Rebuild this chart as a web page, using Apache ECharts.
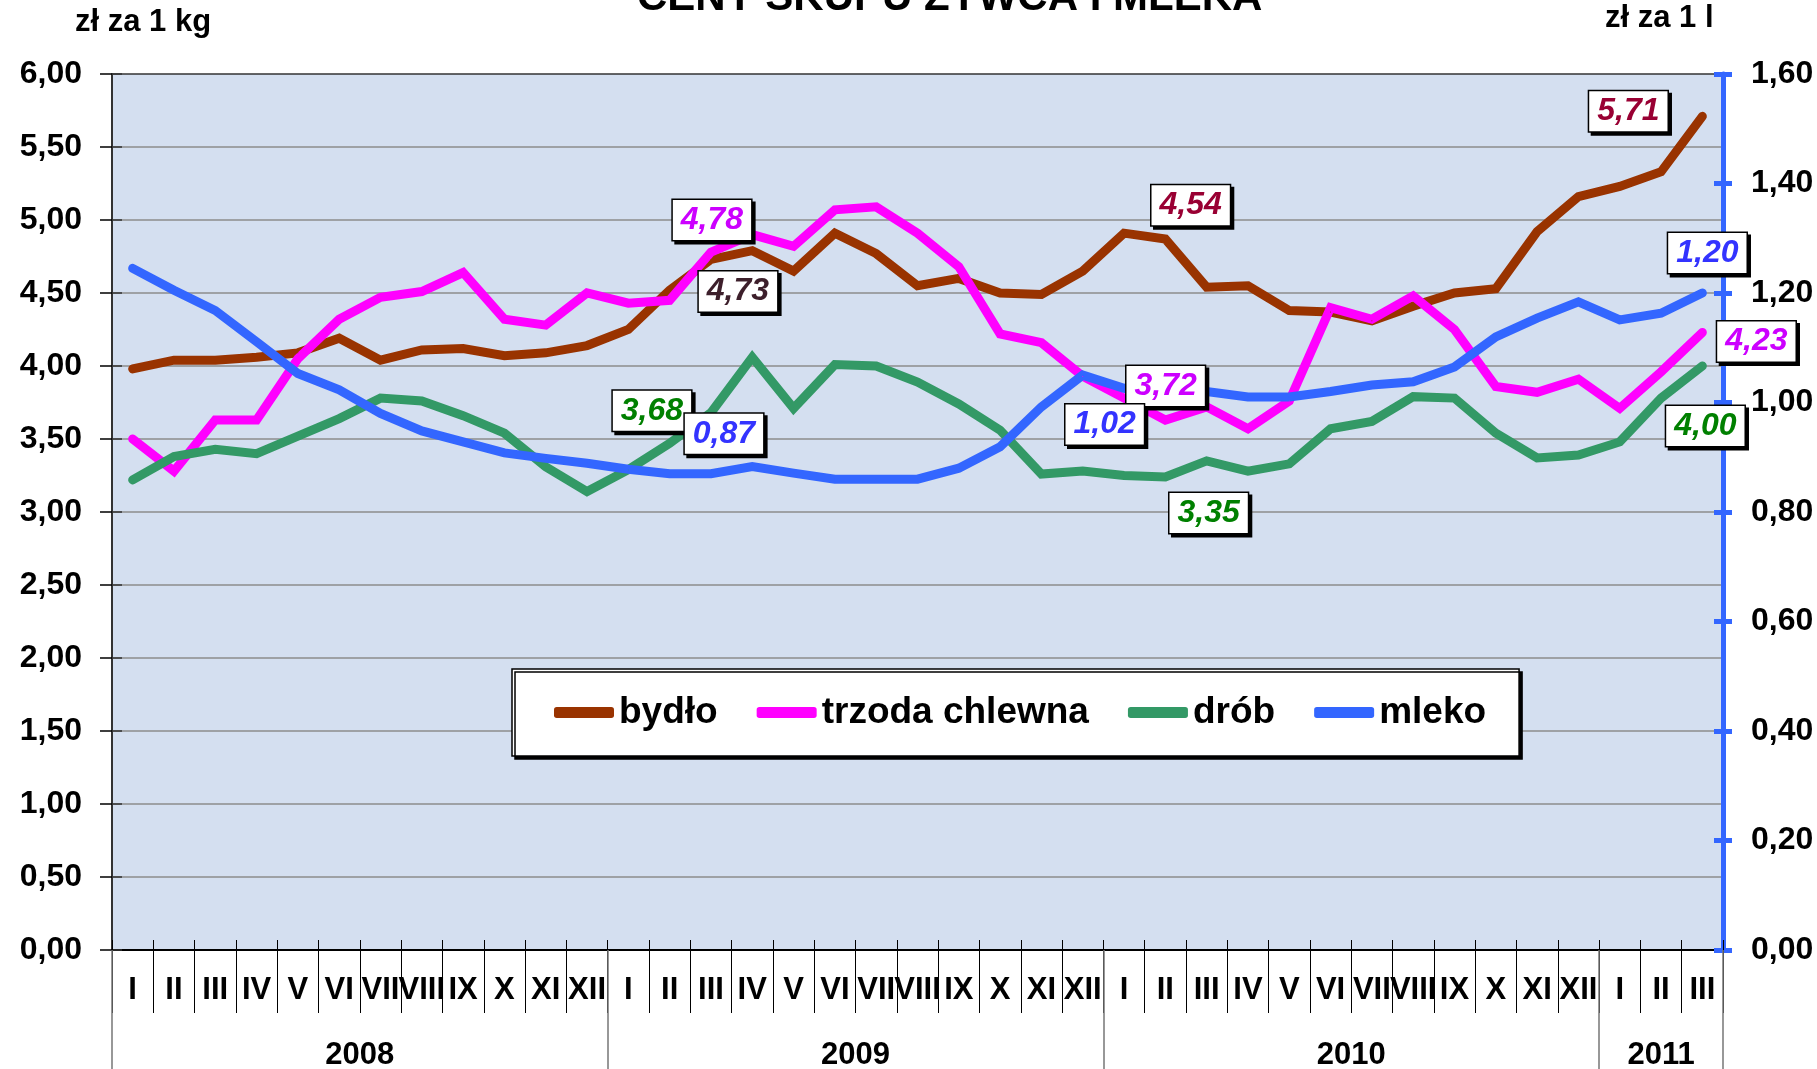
<!DOCTYPE html>
<html><head><meta charset="utf-8">
<script src="https://cdn.jsdelivr.net/npm/echarts@6/dist/echarts.min.js"></script>
<style>html,body{margin:0;padding:0;background:#fff}#c{width:1817px;height:1069px}</style>
</head><body><div id="c"></div>
<script>
// ---------- DATA ----------
const monthLabels = ['I','II','III','IV','V','VI','VII','VIII','IX','X','XI','XII',
                     'I','II','III','IV','V','VI','VII','VIII','IX','X','XI','XII',
                     'I','II','III','IV','V','VI','VII','VIII','IX','X','XI','XII',
                     'I','II','III'];
const years = ['2008','2009','2010','2011'];
const monthsPerYear = [12,12,12,3];
const leftTicks = [0,0.5,1,1.5,2,2.5,3,3.5,4,4.5,5,5.5,6];
const rightTicks = [0,0.2,0.4,0.6,0.8,1.0,1.2,1.4,1.6];

const bydlo  = [3.98,4.04,4.04,4.06,4.09,4.19,4.04,4.11,4.12,4.07,4.09,4.14,
                4.25,4.52,4.73,4.79,4.65,4.91,4.77,4.55,4.60,4.50,4.49,4.65,
                4.91,4.87,4.54,4.55,4.38,4.37,4.31,4.41,4.50,4.53,4.92,5.16,
                5.23,5.33,5.71];
const trzoda = [3.50,3.28,3.63,3.63,4.05,4.32,4.47,4.51,4.64,4.32,4.28,4.50,
                4.43,4.45,4.78,4.90,4.82,5.07,5.09,4.91,4.68,4.22,4.16,3.93,
                3.78,3.63,3.72,3.57,3.76,4.40,4.32,4.48,4.25,3.86,3.82,3.91,
                3.71,3.96,4.23];
const drob   = [3.22,3.38,3.43,3.40,3.52,3.64,3.78,3.76,3.66,3.54,3.31,3.14,
                3.29,3.47,3.68,4.06,3.71,4.01,4.00,3.89,3.74,3.56,3.26,3.28,
                3.25,3.24,3.35,3.28,3.33,3.57,3.62,3.79,3.78,3.54,3.37,3.39,
                3.48,3.78,4.00];
const mleko  = [1.245,1.205,1.168,1.111,1.053,1.023,0.980,0.948,0.928,0.908,0.898,0.889,
                0.878,0.870,0.870,0.883,0.871,0.860,0.860,0.860,0.880,0.919,0.992,1.050,
                1.026,1.015,1.020,1.010,1.010,1.020,1.032,1.038,1.065,1.120,1.154,1.184,
                1.151,1.163,1.200];
const labelledPoints = [14,26,38];

// ---------- STYLE ----------
const FONT = 'Arial, "Liberation Sans", sans-serif';
const fmt2 = v => v.toFixed(2).replace('.', ',');
const yearBounds = monthsPerYear.reduce((a,n)=>{a.push(a[a.length-1]+n);return a;},[0]);
const yearMids = years.map((y,i)=>(yearBounds[i]+yearBounds[i+1])/2);

const boxStyle = {
  show:true, position:'inside', fontFamily:FONT, fontSize:32, fontWeight:'bold', fontStyle:'italic',
  backgroundColor:'#ffffff', borderColor:'#000000', borderWidth:1.5, padding:[5,8,3,8],
  shadowColor:'#000000', shadowOffsetX:3, shadowOffsetY:3, shadowBlur:0,
  formatter: p => fmt2(p.value)
};
const labelCfg = {
  'bydło':          {color:'#990033', offsets:{14:[27,32],26:[-16,-82],38:[-74,-5]}, colors:{14:'#3d1f2b'}},
  'trzoda chlewna': {color:'#cc00ff', offsets:{14:[1,-32],26:[-41,-21],38:[54,9]}},
  'drób':           {color:'#008000', offsets:{14:[-59,-2],26:[2,52],38:[3,60]}},
  'mleko':          {color:'#3333ff', offsets:{14:[13,-40],26:[-102,33],38:[5,-40]}}
};
function buildData(name, values){
  const c = labelCfg[name];
  return values.map((v,i)=>{
    if (labelledPoints.indexOf(i) < 0) return v;
    return {value:v, label:Object.assign({}, boxStyle, {offset:c.offsets[i], color:(c.colors&&c.colors[i])||c.color})};
  });
}
function lineSeries(name, values, color, yIdx){
  return {
    name, type:'line', data:buildData(name, values), yAxisIndex:yIdx, xAxisIndex:0,
    color, symbol:'circle', symbolSize:1, showSymbol:true, showAllSymbol:true,
    itemStyle:{color}, lineStyle:{color, width:9, cap:'round', join:'miter'},
    emphasis:{disabled:true}, animation:false, z:2
  };
}

const axisFont = {fontFamily:FONT, fontSize:31, fontWeight:'bold', color:'#000'};
const gridColors = leftTicks.map((t,i)=> i===leftTicks.length-1 ? '#333333' : '#8c8c8c');

const chart = echarts.init(document.getElementById('c'), null, {renderer:'canvas'});
chart.setOption({
  backgroundColor:'#ffffff',
  animation:false,
  title:[
    {text:'CENY SKUPU ŻYWCA I MLEKA', left:637, top:-23, padding:0,
     textStyle:{fontFamily:FONT, fontSize:42, fontWeight:'bold', color:'#000'}},
    {text:'zł za 1 kg', left:75, top:7, padding:0,
     textStyle:{fontFamily:FONT, fontSize:31, fontWeight:'bold', color:'#000'}},
    {text:'zł za 1 l', left:1605, top:3, padding:0,
     textStyle:{fontFamily:FONT, fontSize:31, fontWeight:'bold', color:'#000'}}
  ],
  legend:{
    left:512, top:669, orient:'horizontal', itemGap:39, itemWidth:60, itemHeight:11,
    icon:'roundRect', padding:[25,33,25,42],
    backgroundColor:'#ffffff', borderColor:'#000000', borderWidth:1.5,
    shadowColor:'#000000', shadowOffsetX:3, shadowOffsetY:3, shadowBlur:0,
    textStyle:{fontFamily:FONT, fontSize:37, fontWeight:'bold', color:'#000'},
    selectedMode:false,
    data:['bydło','trzoda chlewna','drób','mleko']
  },
  grid:{left:112, right:94, top:74, bottom:119, show:true, backgroundColor:'#d4dff0', borderWidth:0,
        containLabel:false, outerBoundsMode:'none'},
  xAxis:[
    {type:'category', data:monthLabels, position:'bottom', boundaryGap:true,
     axisLine:{show:true, onZero:false, lineStyle:{color:'#000', width:2}},
     axisTick:{show:true, interval:0, length:63, lineStyle:{color:'#000', width:1}},
     axisLabel:{interval:0, margin:25, ...axisFont},
     splitLine:{show:false}},
    {type:'value', min:0, max:monthLabels.length, position:'bottom',
     axisLine:{show:false}, splitLine:{show:false},
     axisTick:{show:true, customValues:yearBounds, length:119, lineStyle:{color:'#777', width:1.5}},
     axisLabel:{customValues:yearMids, formatter:v=>years[yearMids.indexOf(v)], margin:90, ...axisFont}},
    {type:'category', data:monthLabels, position:'bottom', boundaryGap:true,
     axisLine:{show:false},
     axisTick:{show:true, inside:true, interval:0, length:10, lineStyle:{color:'#000', width:1}},
     axisLabel:{show:false}, splitLine:{show:false}}
  ],
  yAxis:[
    {type:'value', min:0, max:6, interval:0.5, position:'left',
     axisLine:{show:true, lineStyle:{color:'#333', width:2}},
     axisTick:{show:true, length:12, lineStyle:{color:'#000', width:1.5}},
     axisLabel:{formatter:v=>fmt2(v), margin:30, ...axisFont, fontSize:32},
     splitLine:{show:true, lineStyle:{color:gridColors, width:1.5}}},
    {type:'value', min:0, max:1.6, interval:0.2, position:'right',
     axisLine:{show:true, lineStyle:{color:'#3366ff', width:5}},
     axisTick:{show:true, length:9, lineStyle:{color:'#3366ff', width:5}},
     axisLabel:{formatter:v=>fmt2(v), margin:28, ...axisFont, fontSize:32},
     splitLine:{show:false}},
    {type:'value', min:0, max:1.6, interval:0.2, position:'right',
     axisLine:{show:false}, axisLabel:{show:false}, splitLine:{show:false},
     axisTick:{show:true, inside:true, length:9, lineStyle:{color:'#3366ff', width:5}}},
    {type:'value', min:0, max:6, interval:0.5, position:'left',
     axisLine:{show:false}, axisLabel:{show:false}, splitLine:{show:false},
     axisTick:{show:true, inside:true, length:10, lineStyle:{color:'#333', width:1.5}}}
  ],
  series:[
    lineSeries('bydło', bydlo, '#993300', 0),
    lineSeries('trzoda chlewna', trzoda, '#ff00ff', 0),
    lineSeries('drób', drob, '#339966', 0),
    lineSeries('mleko', mleko, '#3366ff', 1)
  ]
});
</script></body></html>
